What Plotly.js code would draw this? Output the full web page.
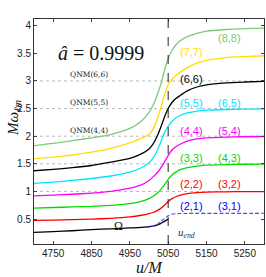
<!DOCTYPE html>
<html>
<head>
<meta charset="utf-8">
<script src="https://cdn.plot.ly/plotly-3.0.1.min.js"></script>
<style>html,body{margin:0;padding:0;background:#fff;}#chart{width:266px;height:277px;}</style>
</head>
<body>
<div id="chart"></div>
<script>
// ---- data ----
const u = [4700, 4750, 4800, 4850, 4900, 4950, 4980, 5000, 5010, 5020, 5030, 5040, 5050, 5060, 5070, 5080, 5100, 5125, 5150, 5200, 5250, 5300];
const w88 = [1.83, 1.87, 1.92, 1.97, 2.03, 2.14, 2.27, 2.43, 2.55, 2.72, 2.92, 3.18, 3.40, 3.55, 3.65, 3.72, 3.80, 3.86, 3.90, 3.93, 3.945, 3.955];
const w77 = [1.59, 1.62, 1.66, 1.71, 1.78, 1.88, 1.96, 2.03, 2.12, 2.28, 2.50, 2.74, 2.93, 3.03, 3.10, 3.15, 3.24, 3.32, 3.37, 3.42, 3.44, 3.455];
const w66 = [1.375, 1.40, 1.43, 1.47, 1.53, 1.60, 1.68, 1.77, 1.85, 1.98, 2.15, 2.34, 2.50, 2.61, 2.68, 2.73, 2.82, 2.89, 2.93, 2.965, 2.98, 2.99];
const w55 = [1.147, 1.17, 1.20, 1.235, 1.28, 1.35, 1.43, 1.52, 1.60, 1.72, 1.88, 2.06, 2.18, 2.27, 2.33, 2.37, 2.42, 2.455, 2.47, 2.483, 2.49, 2.495];
const w44 = [0.92, 0.935, 0.95, 0.97, 1.00, 1.06, 1.12, 1.20, 1.26, 1.33, 1.42, 1.53, 1.65, 1.75, 1.81, 1.85, 1.91, 1.95, 1.97, 1.985, 1.99, 1.995];
const w33 = [0.70, 0.71, 0.72, 0.73, 0.75, 0.78, 0.82, 0.87, 0.91, 0.96, 1.03, 1.12, 1.22, 1.30, 1.35, 1.39, 1.43, 1.46, 1.475, 1.487, 1.493, 1.496];
const w22 = [0.476, 0.483, 0.49, 0.50, 0.515, 0.54, 0.57, 0.60, 0.62, 0.65, 0.69, 0.75, 0.82, 0.87, 0.905, 0.93, 0.96, 0.978, 0.987, 0.994, 0.997, 0.998];
const uOmega = [4700, 4750, 4800, 4850, 4900, 4950, 4980, 5000, 5010, 5020, 5030, 5040, 5050];
const omega = [0.26, 0.275, 0.29, 0.31, 0.325, 0.34, 0.35, 0.365, 0.375, 0.39, 0.42, 0.46, 0.50];
const u21 = [4990, 5010, 5020, 5030, 5040, 5050, 5060, 5075, 5100, 5200, 5300];
const w21 = [0.35, 0.37, 0.40, 0.45, 0.51, 0.56, 0.59, 0.60, 0.603, 0.604, 0.605];
const uEnd = 5050;
const qnmLevels = [1, 1.5, 2, 2.5, 3];
const qnmLabels = ["QNM(4,4)", "QNM(5,5)", "QNM(6,6)"];
const qnmLabelLevels = [2, 2.5, 3];
const xTicks = [4750, 4850, 4950, 5050, 5150, 5250];
const yTicks = [0.5, 1, 1.5, 2, 2.5, 3, 3.5, 4];
const yTickText = ["0.5", "1", "1.5", "2", "2.5", "3", "3.5", "4"];
const modeLabels = [
  {t: "(8,8)", u: 5210, y: 3.78, c: "#7dc97d"},
  {t: "(7,7)", u: 5110, y: 3.53, c: "#ffdd00"},
  {t: "(6,6)", u: 5110, y: 3.03, c: "#000000"},
  {t: "(5,5)", u: 5110, y: 2.60, c: "#00e5ff"},
  {t: "(6,5)", u: 5210, y: 2.60, c: "#00e5ff"},
  {t: "(4,4)", u: 5110, y: 2.10, c: "#ff00ff"},
  {t: "(5,4)", u: 5210, y: 2.10, c: "#ff00ff"},
  {t: "(3,3)", u: 5110, y: 1.60, c: "#00dd00"},
  {t: "(4,3)", u: 5210, y: 1.60, c: "#00dd00"},
  {t: "(2,2)", u: 5110, y: 1.14, c: "#ff0000"},
  {t: "(3,2)", u: 5210, y: 1.14, c: "#ff0000"},
  {t: "(2,1)", u: 5110, y: 0.74, c: "#0000ff"},
  {t: "(3,1)", u: 5210, y: 0.74, c: "#0000ff"}
];

function line(x, y, color, dash, width) {
  return {x: x, y: y, type: "scatter", mode: "lines", line: {color: color, width: width || 1.3, shape: "spline", smoothing: 0.6, dash: dash || "solid"}, hoverinfo: "skip", showlegend: false};
}

const traces = [
  line(u, w88, "#7dc97d"),
  line(u, w77, "#ffdd00"),
  line(u, w66, "#000000"),
  line(u, w55, "#00e5ff"),
  line(u, w44, "#ff00ff"),
  line(u, w33, "#00dd00"),
  line(u, w22, "#ff0000"),
  line(uOmega, omega, "#000000"),
  line(u21, w21, "#4a4aff", "4px,2px", 1.1)
];

const shapes = qnmLevels.map(v => ({type: "line", xref: "paper", x0: 0, x1: 1, yref: "y", y0: v, y1: v, line: {color: "#bbbbbb", width: 1, dash: "dot"}, layer: "below"}));
shapes.push({type: "line", xref: "x", x0: uEnd, x1: uEnd, yref: "paper", y0: 0, y1: 1, line: {color: "#222", width: 1, dash: "dash"}});

const annotations = [];
qnmLabels.forEach((t, i) => annotations.push({x: 4843, y: qnmLabelLevels[i], yshift: 6, text: t, showarrow: false, font: {family: "DejaVu Serif", size: 7.5, color: "#222"}}));
modeLabels.forEach(m => annotations.push({x: m.u, y: m.y, text: m.t, showarrow: false, font: {family: "Liberation Sans, Arial", size: 11, color: m.c}}));
annotations.push({x: 4875, y: 3.5, text: "<i>â</i> = 0.9999", showarrow: false, font: {family: "Liberation Serif", size: 20, color: "#111"}});
annotations.push({x: 4920, y: 0.38, text: "Ω", showarrow: false, font: {family: "Liberation Serif", size: 12, color: "#111"}});
annotations.push({x: 5098, y: 0.245, text: "<i>u<sub>end</sub></i>", showarrow: false, font: {family: "Liberation Serif", size: 11, color: "#333"}});
annotations.push({xref: "paper", yref: "paper", x: -0.135, y: 0.56, textangle: -90, text: "<i>Mω<sub>ℓm</sub></i>", showarrow: false, font: {family: "Liberation Serif", size: 15, color: "#111"}});

const layout = {
  width: 266, height: 277,
  margin: {l: 34, r: 2, t: 19, b: 33},
  paper_bgcolor: "#fff", plot_bgcolor: "#fff",
  xaxis: {range: [4700, 5300], tickvals: xTicks, ticks: "inside", ticklen: 3, mirror: "allticks", showline: true, linecolor: "#333", linewidth: 1, showgrid: false, zeroline: false, tickfont: {family: "Liberation Sans, Arial", size: 10, color: "#222"},
    title: {text: "<i>u/M</i>", font: {family: "Liberation Serif", size: 16, color: "#111"}, standoff: 2}},
  yaxis: {range: [0.05, 4.12], tickvals: yTicks, ticktext: yTickText, ticks: "inside", ticklen: 3, mirror: "allticks", showline: true, linecolor: "#333", linewidth: 1, showgrid: false, zeroline: false, tickfont: {family: "Liberation Sans, Arial", size: 10, color: "#222"}},
  shapes: shapes,
  annotations: annotations
};

Plotly.newPlot("chart", traces, layout, {staticPlot: true, displayModeBar: false});
</script>
</body>
</html>
